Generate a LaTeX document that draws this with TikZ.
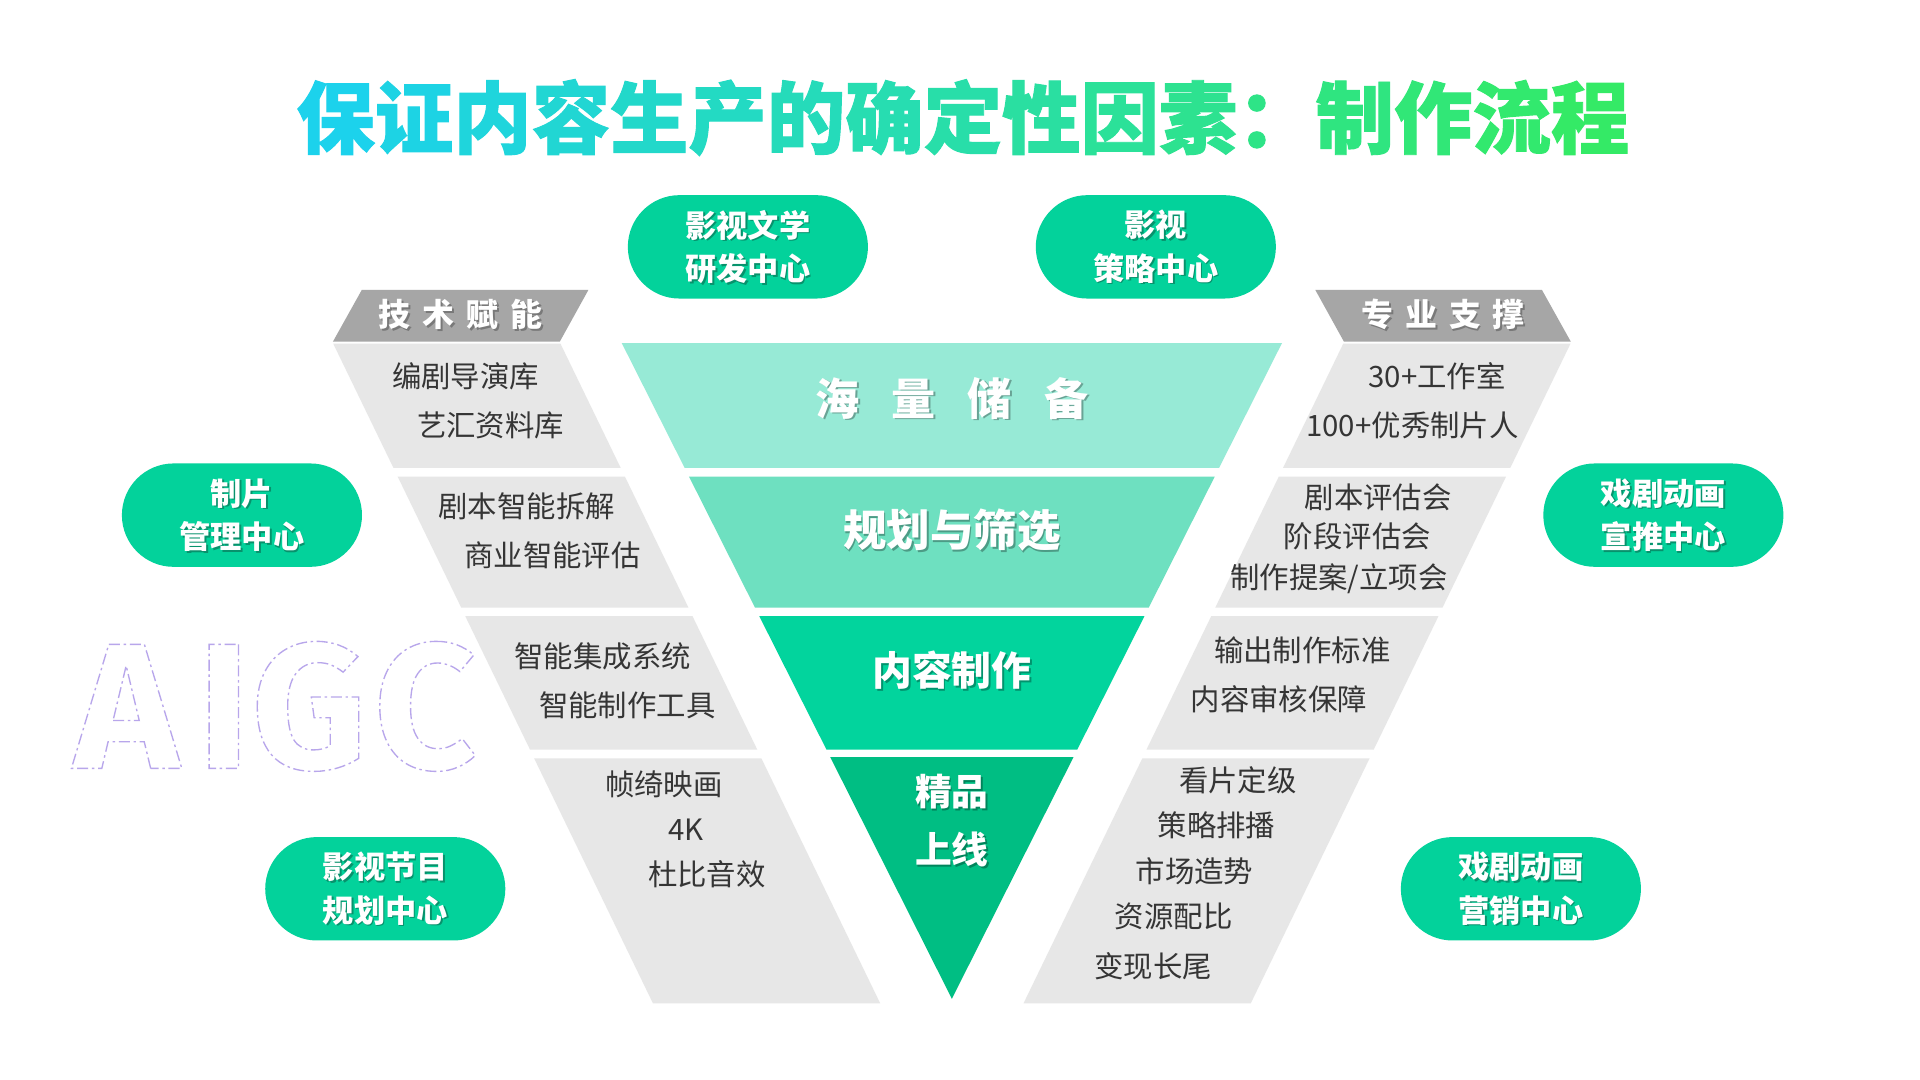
\documentclass[tikz,border=0pt]{standalone}
\usepackage{fontspec}
\newfontfamily\cjk{Noto Sans CJK SC}
\newfontfamily\cjktitle{Noto Sans CJK SC}[BoldFeatures={FakeBold=1.2}]
\newfontfamily\aigcfont{Fira Sans}
\usetikzlibrary{shapes.misc}
\definecolor{bandgrey}{HTML}{E7E7E7}
\definecolor{headgrey}{HTML}{A6A6A6}
\definecolor{headshadow}{HTML}{6E6E6E}
\definecolor{fone}{HTML}{97EAD6}
\definecolor{ftwo}{HTML}{6EE0C0}
\definecolor{fthree}{HTML}{02D49D}
\definecolor{ffour}{HTML}{00BE83}
\definecolor{pillgreen}{HTML}{03D29B}
\definecolor{shadowgreen}{HTML}{0B5E47}
\definecolor{itemgrey}{HTML}{353535}
\definecolor{tL}{HTML}{1CD2EC}
\definecolor{tR}{HTML}{34EA66}
\definecolor{aigccol}{HTML}{B8A6EA}
\newcommand\tc[2]{\textcolor{tR!#1!tL}{#2}}
\newcommand\aigcon{\special{pdf:literal direct 1 Tr 1.1 w 0.72 0.65 0.92 RG [9 3 2 3] 0 d}}
\newcommand\aigcoff{\special{pdf:literal direct 0 Tr [] 0 d}}
\tikzset{
  greyband/.style={fill=bandgrey},
  headband/.style={fill=headgrey},
  pill/.style={rounded rectangle, fill=pillgreen, minimum width=196pt, minimum height=84.4pt, inner sep=0pt},
  pilltext/.style={text=white, font=\cjk\bfseries\fontsize{25.5}{35.4}\selectfont, align=center, inner sep=0pt},
  pillshadow/.style={pilltext, text=shadowgreen, opacity=0.55},
  itemtext/.style={text=itemgrey, font=\cjk\fontsize{24}{28}\selectfont, inner sep=0pt},
  headtext/.style={text=white, font=\cjk\bfseries\fontsize{26}{30}\selectfont, inner sep=0pt},
  headshad/.style={headtext, text=headshadow, opacity=0.8},
  funneltext/.style={text=white, font=\cjk\bfseries, inner sep=0pt, align=center},
  funnelshad/.style={funneltext, text=black, opacity=0.3},
  aigc/.style={text=aigccol, font=\aigcfont\bfseries\fontsize{146}{150}\selectfont, inner sep=0pt, anchor=base west},
}
\begin{document}
\begin{tikzpicture}[x=1pt,y=-1pt]
\useasboundingbox (0,0) rectangle (1567.3,881.6);
\fill[white] (0,0) rectangle (1567.3,881.6);

% title
\node[font=\cjktitle\bfseries\fontsize{64}{70}\selectfont, inner sep=0pt] (title) at (786,96)
 {\tc{0}{保}\tc{6}{证}\tc{12}{内}\tc{19}{容}\tc{25}{生}\tc{31}{产}\tc{37}{的}\tc{44}{确}\tc{50}{定}\tc{56}{性}\tc{62}{因}\tc{69}{素}\tc{75}{：}\tc{81}{制}\tc{87}{作}\tc{94}{流}\tc{100}{程}};

% AIGC outlined letters
\node[aigc] (aigcA) at (60,627.2) {\aigcon A\aigcoff};
\node[aigc] (aigcI) at (161,627.2) {\aigcon I\aigcoff};
\node[aigc] (aigcG) at (205,627.2) {\aigcon G\aigcoff};
\node[aigc] (aigcC) at (305,627.2) {\aigcon C\aigcoff};

% headers
\fill[headband] (295.3,236.7) -- (480.3,236.7) -- (457,278.8) -- (271.8,278.8) -- cycle;
\fill[headband] (1073.7,236.7) -- (1258.7,236.7) -- (1282.2,278.8) -- (1097,278.8) -- cycle;
\node[headshad] (hls) at (377.5,258.5) {技\hspace{9.8pt}术\hspace{9.8pt}赋\hspace{9.8pt}能};
\node[headtext] (hl) at (376,257) {技\hspace{9.8pt}术\hspace{9.8pt}赋\hspace{9.8pt}能};
\node[headshad] (hrs) at (1179.5,258.5) {专\hspace{9.8pt}业\hspace{9.8pt}支\hspace{9.8pt}撑};
\node[headtext] (hr) at (1178,257) {专\hspace{9.8pt}业\hspace{9.8pt}支\hspace{9.8pt}撑};

% left grey bands
\fill[greyband] (272.0,280.5) -- (457.5,280.5) -- (506.7,382) -- (321.2,382) -- cycle;
\fill[greyband] (324.6,389) -- (510.1,389) -- (562.0,496) -- (376.5,496) -- cycle;
\fill[greyband] (379.8,503) -- (565.3,503) -- (618.2,612) -- (432.7,612) -- cycle;
\fill[greyband] (436.0,619) -- (621.5,619) -- (718.5,819) -- (533.0,819) -- cycle;
% right grey bands
\fill[greyband] (1096.5,280.5) -- (1282.0,280.5) -- (1232.8,382) -- (1047.3,382) -- cycle;
\fill[greyband] (1043.9,389) -- (1229.4,389) -- (1177.5,496) -- (992.0,496) -- cycle;
\fill[greyband] (988.7,503) -- (1174.2,503) -- (1121.3,612) -- (935.8,612) -- cycle;
\fill[greyband] (932.5,619) -- (1118.0,619) -- (1021.0,819) -- (835.5,819) -- cycle;

% funnel
\fill[fone] (507.5,280) -- (1046.5,280) -- (995.1,382) -- (558.9,382) -- cycle;
\fill[ftwo] (562.4,389) -- (991.6,389) -- (937.7,496) -- (616.3,496) -- cycle;
\fill[fthree] (619.8,503) -- (934.2,503) -- (879.3,612) -- (674.7,612) -- cycle;
\fill[ffour] (677.7,618) -- (876.3,618) -- (777,815.3) -- cycle;

% funnel texts
\node[funnelshad, font=\cjk\bfseries\fontsize{36}{40}\selectfont] (f1s) at (778.5,326.5) {海\hspace{26.3pt}量\hspace{26.3pt}储\hspace{26.3pt}备};
\node[funneltext, font=\cjk\bfseries\fontsize{36}{40}\selectfont] (f1) at (777,325) {海\hspace{26.3pt}量\hspace{26.3pt}储\hspace{26.3pt}备};
\node[funnelshad, font=\cjk\bfseries\fontsize{35.5}{40}\selectfont] (f2s) at (778.5,434.5) {规划与筛选};
\node[funneltext, font=\cjk\bfseries\fontsize{35.5}{40}\selectfont] (f2) at (777,433) {规划与筛选};
\node[funnelshad, font=\cjk\bfseries\fontsize{32.5}{36}\selectfont] (f3s) at (778.5,548.5) {内容制作};
\node[funneltext, font=\cjk\bfseries\fontsize{32.5}{36}\selectfont] (f3) at (777,547) {内容制作};
\node[funnelshad, font=\cjk\bfseries\fontsize{30}{47.6}\selectfont] (f4s) at (778.5,671.5) {精品\\上线};
\node[funneltext, font=\cjk\bfseries\fontsize{30}{47.6}\selectfont] (f4) at (777,670) {精品\\上线};

% left items
\node[itemtext] (l1a) at (380,307) {编剧导演库};
\node[itemtext] (l1b) at (400.5,347.5) {艺汇资料库};
\node[itemtext] (l2a) at (430,413) {剧本智能拆解};
\node[itemtext] (l2b) at (451,453) {商业智能评估};
\node[itemtext] (l3a) at (492,536) {智能集成系统};
\node[itemtext] (l3b) at (512,576) {智能制作工具};
\node[itemtext] (l4a) at (542,640) {帧绮映画};
\node[itemtext] (l4b) at (560,677) {4K};
\node[itemtext] (l4c) at (577,714) {杜比音效};

% right items
\node[itemtext] (r1a) at (1173,307) {30+工作室};
\node[itemtext] (r1b) at (1153,347) {100+优秀制片人};
\node[itemtext] (r2a) at (1125,406) {剧本评估会};
\node[itemtext] (r2b) at (1108,438) {阶段评估会};
\node[itemtext] (r2c) at (1093,472) {制作提案/立项会};
\node[itemtext] (r3a) at (1063,531) {输出制作标准};
\node[itemtext] (r3b) at (1044,571) {内容审核保障};
\node[itemtext] (r4a) at (1010.5,637) {看片定级};
\node[itemtext] (r4b) at (993,674) {策略排播};
\node[itemtext] (r4c) at (975,711) {市场造势};
\node[itemtext] (r4d) at (958,748) {资源配比};
\node[itemtext] (r4e) at (941.5,789) {变现长尾};

% pills
\node[pill] (p1) at (610.5,201.5) {};
\node[pillshadow] (p1s) at ([shift={(1.3,1.3)}]p1.center) {影视文学\\研发中心};
\node[pilltext] (p1t) at (p1.center) {影视文学\\研发中心};

\node[pill] (p2) at (943.5,201.5) {};
\node[pillshadow] (p2s) at ([shift={(1.3,1.3)}]p2.center) {影视\\策略中心};
\node[pilltext] (p2t) at (p2.center) {影视\\策略中心};

\node[pill] (p3) at (197.5,420.5) {};
\node[pillshadow] (p3s) at ([shift={(1.3,1.3)}]p3.center) {制片\\管理中心};
\node[pilltext] (p3t) at (p3.center) {制片\\管理中心};

\node[pill] (p4) at (1357.8,420.5) {};
\node[pillshadow] (p4s) at ([shift={(1.3,1.3)}]p4.center) {戏剧动画\\宣推中心};
\node[pilltext] (p4t) at (p4.center) {戏剧动画\\宣推中心};

\node[pill] (p5) at (314.5,725.5) {};
\node[pillshadow] (p5s) at ([shift={(1.3,1.3)}]p5.center) {影视节目\\规划中心};
\node[pilltext] (p5t) at (p5.center) {影视节目\\规划中心};

\node[pill] (p6) at (1241.5,725.5) {};
\node[pillshadow] (p6s) at ([shift={(1.3,1.3)}]p6.center) {戏剧动画\\营销中心};
\node[pilltext] (p6t) at (p6.center) {戏剧动画\\营销中心};
\end{tikzpicture}
\end{document}
